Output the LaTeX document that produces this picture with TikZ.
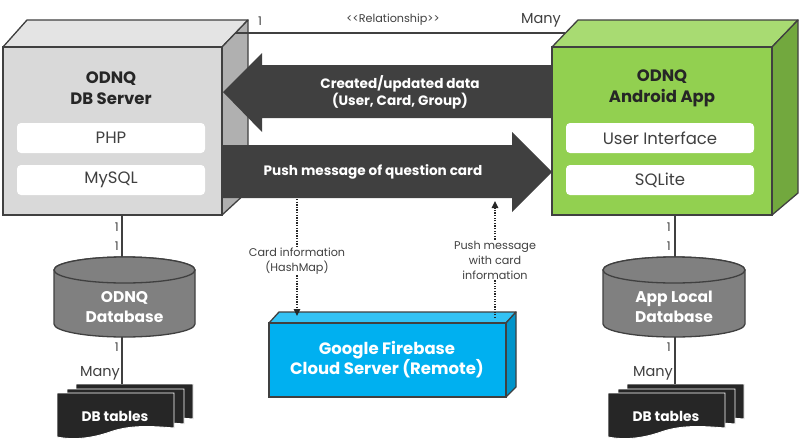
\documentclass[tikz,border=0pt]{standalone}
\usepackage{fontspec}
\setmainfont{Poppins}
\usetikzlibrary{arrows.meta}
\definecolor{edge}{HTML}{404040}
\definecolor{txt}{HTML}{262626}
\definecolor{grayFront}{HTML}{D9D9D9}
\definecolor{grayTop}{HTML}{E4E4E4}
\definecolor{graySide}{HTML}{B0B0B0}
\definecolor{grnFront}{HTML}{92D050}
\definecolor{grnTop}{HTML}{A8DB72}
\definecolor{grnSide}{HTML}{72A83E}
\definecolor{bluFront}{HTML}{00B0F0}
\definecolor{bluTop}{HTML}{33C2F4}
\definecolor{bluSide}{HTML}{0094CA}
\definecolor{bigarrow}{HTML}{404040}
\definecolor{cyl}{HTML}{808080}
\definecolor{sheet}{HTML}{262626}
\tikzset{
  face/.style={draw=edge,line width=1.3pt,line join=round},
  frontface/.style={draw=edge,line width=1.3pt,inner sep=0pt,outer sep=0pt,anchor=north west},
  title/.style={font=\bfseries\fontsize{16.5}{21}\selectfont,text=txt,align=center},
  inbox/.style={fill=white,rounded corners=4pt,minimum width=188pt,minimum height=30pt,inner sep=0pt,
     font=\fontsize{16.5}{19}\selectfont,text=edge},
  arrowtxt/.style={font=\bfseries\fontsize{13.6}{17}\selectfont,text=white,align=center},
  wtxt/.style={font=\bfseries\fontsize{15.5}{20}\selectfont,text=white,align=center},
  smalltxt/.style={font=\fontsize{11.2}{15}\selectfont,text=edge,align=center,inner sep=1pt},
  card/.style={font=\fontsize{12}{14}\selectfont,text=edge,inner sep=1pt},
  manytxt/.style={font=\fontsize{14.5}{16}\selectfont,text=edge,inner sep=1pt},
  conn/.style={draw=edge,line width=1.3pt},
  dots/.style={draw=black!85,line width=1.3pt,dash pattern=on 1.3pt off 1.3pt},
  sheetst/.style={fill=sheet,draw=white,line width=0.9pt},
}
\begin{document}
\begin{tikzpicture}[x=1pt,y=-1pt]
\useasboundingbox[fill=white] (0,0) rectangle (800,442);

% ---------- left DB server box
\filldraw[face,fill=grayTop] (3,47) -- (27,20) -- (248,20) -- (222,47) -- cycle;
\filldraw[face,fill=graySide] (222,47) -- (248,20) -- (248,191) -- (222,215) -- cycle;
\node[frontface,fill=grayFront,minimum width=219pt,minimum height=168pt] (srv) at (3,47) {};
\node[title] (srvT) at (111,88) {ODNQ\\DB Server};
\node[inbox] (php) at (111,138) {PHP};
\node[inbox] (mysql) at (111,180) {MySQL};

% ---------- big arrows
\fill[bigarrow] (223,92) -- (262,53) -- (262,65) -- (560,65) -- (560,118) -- (262,118) -- (262,132) -- cycle;
\node[arrowtxt] (upd) at (400,92) {Created/updated data\\(User, Card, Group)};
\fill[bigarrow] (222,145) -- (512,145) -- (512,132) -- (552,172) -- (512,212) -- (512,198) -- (222,198) -- cycle;
\node[arrowtxt] (push) at (373,172) {Push message of question card};
\coordinate (pushL) at (297,199);
\coordinate (pushR) at (495,201);

% ---------- right Android box
\filldraw[face,fill=grnTop] (552,47) -- (578,20) -- (798,20) -- (772,47) -- cycle;
\filldraw[face,fill=grnSide] (772,47) -- (798,20) -- (798,193) -- (772,215) -- cycle;
\node[frontface,fill=grnFront,minimum width=220pt,minimum height=168pt] (app) at (552,47) {};
\node[title] (appT) at (662,88) {ODNQ\\Android App};
\node[inbox] (ui) at (660,138) {User Interface};
\node[inbox] (sqlite) at (660,180) {SQLite};

% ---------- relationship line
\coordinate (relL) at (235,33);
\coordinate (relR) at (565,33);
\draw[conn] (relL) -- (relR);
\node[card] (r1) at (260,21) {1};
\node[smalltxt] (rel) at (393,20) {{<}{<}Relationship{>}{>}};
\node[manytxt] (rmany) at (541,20) {Many};

% ---------- firebase
\filldraw[face,fill=bluTop] (269,323) -- (279,312) -- (516,312) -- (506,323) -- cycle;
\filldraw[face,fill=bluSide] (506,323) -- (516,312) -- (516,387) -- (506,397) -- cycle;
\node[frontface,fill=bluFront,minimum width=237pt,minimum height=74pt] (fb) at (269,323) {};
\node[wtxt,font=\bfseries\fontsize{16.5}{20}\selectfont] (fbT) at (387,360) {Google Firebase\\Cloud Server (Remote)};
\coordinate (fbL) at (297,316);
\coordinate (fbR) at (495,318);

% dotted arrows
\node[smalltxt] (cinfo) at (297,261) {Card information\\(HashMap)};
\draw[dots] (pushL) -- (cinfo.north);
\draw[dots,-{Triangle[length=7pt,width=6.5pt]}] (cinfo.south) -- (fbL);
\node[smalltxt] (pinfo) at (495,260) {Push message\\with card\\information};
\draw[dots] (fbR) -- (pinfo.south);
\draw[dots,-{Triangle[length=7pt,width=6.5pt]}] (pinfo.north) -- (pushR);

% ---------- left database
\filldraw[face,fill=cyl] (54,270) -- (54,324) arc[start angle=180,end angle=360,x radius=70.5,y radius=-13] -- (195,270) arc[start angle=0,end angle=180,x radius=70.5,y radius=-13] -- cycle;
\filldraw[face,fill=cyl] (124.5,270) ellipse[x radius=70.5,y radius=13];
\node[wtxt] (odb) at (124.5,307) {ODNQ\\Database};
\coordinate (odbTop) at (122,257);
\coordinate (odbBot) at (122,337);
\coordinate (srvB) at (122,215);
\draw[conn] (srvB) -- (odbTop);
\node[card,anchor=east] at (120,227) {1};
\node[card,anchor=east] at (120,246) {1};

% left DB tables
\foreach \dx/\dy in {19/-9,10/-4,0/0}{
  \filldraw[sheetst,shift={(\dx,\dy)}] (57,393) -- (174,393) -- (174,428) .. controls (150,426) and (130,425) .. (110,432) .. controls (90,439) and (72,440) .. (57,437) -- cycle;
}
\node[wtxt,font=\bfseries\fontsize{13.8}{16}\selectfont] (ltab) at (115,416) {DB tables};
\coordinate (ltabTop) at (122,384);
\draw[conn] (odbBot) -- (ltabTop);
\node[card,anchor=east] at (120,347) {1};
\node[manytxt,anchor=east] at (121,373) {Many};

% ---------- right database
\filldraw[face,fill=cyl] (603,270) -- (603,324) arc[start angle=180,end angle=360,x radius=71,y radius=-13] -- (745,270) arc[start angle=0,end angle=180,x radius=71,y radius=-13] -- cycle;
\filldraw[face,fill=cyl] (674,270) ellipse[x radius=71,y radius=13];
\node[wtxt] (adb) at (674,307) {App Local\\Database};
\coordinate (adbTop) at (675,257);
\coordinate (adbBot) at (675,337);
\coordinate (appB) at (675,215);
\draw[conn] (appB) -- (adbTop);
\node[card,anchor=east] at (672,227) {1};
\node[card,anchor=east] at (672,246) {1};

% right DB tables
\foreach \dx/\dy in {19/-9,10/-4,0/0}{
  \filldraw[sheetst,shift={(\dx+551,\dy)}] (57,393) -- (174,393) -- (174,428) .. controls (150,426) and (130,425) .. (110,432) .. controls (90,439) and (72,440) .. (57,437) -- cycle;
}
\node[wtxt,font=\bfseries\fontsize{13.8}{16}\selectfont] (rtab) at (666,416) {DB tables};
\coordinate (rtabTop) at (675,384);
\draw[conn] (adbBot) -- (rtabTop);
\node[card,anchor=east] at (672,347) {1};
\node[manytxt,anchor=east] at (674,373) {Many};
\end{tikzpicture}
\end{document}
